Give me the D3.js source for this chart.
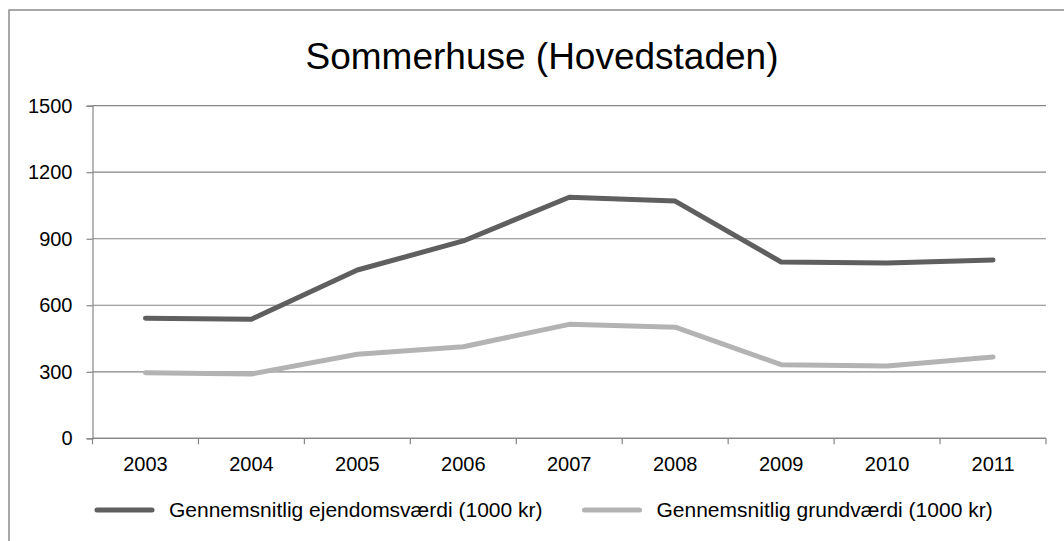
<!DOCTYPE html>
<html>
<head>
<meta charset="utf-8">
<script src="https://cdn.jsdelivr.net/npm/d3@7"></script>
<style>
  body { margin: 0; background: #fff; }
  text { font-family: "Liberation Sans", Arial, sans-serif; fill: #000; }
</style>
</head>
<body>
<svg id="chart" width="1064" height="541"></svg>
<script>
"use strict";

const years = ["2003", "2004", "2005", "2006", "2007", "2008", "2009", "2010", "2011"];
const ejendomsvaerdi = [541, 537, 759, 890, 1087, 1070, 795, 791, 804];
const grundvaerdi = [296, 290, 379, 413, 514, 501, 332, 326, 367];
const yTicks = [0, 300, 600, 900, 1200, 1500];
const seriesNames = [
  "Gennemsnitlig ejendomsværdi (1000 kr)",
  "Gennemsnitlig grundværdi (1000 kr)"
];
const seriesColors = ["#5f5f5f", "#b3b3b3"];
const title = "Sommerhuse (Hovedstaden)";

const svg = d3.select("svg#chart");
const margin = { left: 92.5, right: 1046, top: 105.7, bottom: 438.3 };

// outer chart border (only top and left are inside the frame)
svg.append("rect")
  .attr("x", 9).attr("y", 10)
  .attr("width", 1100).attr("height", 600)
  .attr("fill", "none")
  .attr("stroke", "#8c8c8c")
  .attr("stroke-width", 1.5);

svg.append("text")
  .attr("x", 542).attr("y", 69)
  .attr("text-anchor", "middle")
  .style("font-size", "37px")
  .text(title);

const x = d3.scaleBand().domain(years).range([margin.left, margin.right]);
const y = d3.scaleLinear().domain([0, 1500]).range([margin.bottom, margin.top]);

// gridlines
svg.append("g")
  .selectAll("line")
  .data(yTicks)
  .join("line")
  .attr("x1", margin.left).attr("x2", margin.right)
  .attr("y1", d => y(d)).attr("y2", d => y(d))
  .attr("stroke", "#868686")
  .attr("stroke-width", 1.2);

// y axis
const yAxis = svg.append("g")
  .attr("transform", `translate(${margin.left},0)`)
  .call(d3.axisLeft(y).tickValues(yTicks).tickFormat(d3.format("d")).tickSize(6).tickPadding(14));
yAxis.select(".domain").attr("stroke", "#868686").attr("stroke-width", 1.2);
yAxis.selectAll(".tick line").attr("stroke", "#868686").attr("stroke-width", 1.2);
yAxis.selectAll("text")
  .style("font-size", "20px")
  .style("font-family", "'Liberation Sans', Arial, sans-serif");

// x axis, ticks on category boundaries
const xAxis = svg.append("g")
  .attr("transform", `translate(0,${margin.bottom})`)
  .call(d3.axisBottom(x).tickSize(0).tickPadding(19));
xAxis.select(".domain").remove();
xAxis.selectAll("text")
  .style("font-size", "20px")
  .style("font-family", "'Liberation Sans', Arial, sans-serif");
xAxis.append("line")
  .attr("x1", margin.left).attr("x2", margin.right)
  .attr("stroke", "#868686").attr("stroke-width", 1.2);
xAxis.selectAll(".boundary")
  .data(d3.range(years.length + 1))
  .join("line")
  .attr("class", "boundary")
  .attr("x1", i => margin.left + i * x.step())
  .attr("x2", i => margin.left + i * x.step())
  .attr("y1", 0).attr("y2", 6)
  .attr("stroke", "#868686").attr("stroke-width", 1.2);

// lines
const line = d3.line()
  .x((d, i) => x(years[i]) + x.bandwidth() / 2)
  .y(d => y(d));

[ejendomsvaerdi, grundvaerdi].forEach((values, k) => {
  svg.append("path")
    .datum(values)
    .attr("d", line)
    .attr("fill", "none")
    .attr("stroke", seriesColors[k])
    .attr("stroke-width", 5)
    .attr("stroke-linecap", "round")
    .attr("stroke-linejoin", "round");
});

// legend
const legend = svg.append("g").attr("transform", "translate(0,510)");
let lx = 97;
seriesNames.forEach((name, k) => {
  legend.append("line")
    .attr("x1", lx).attr("x2", lx + 55)
    .attr("stroke", seriesColors[k])
    .attr("stroke-width", 5)
    .attr("stroke-linecap", "round");
  const t = legend.append("text")
    .attr("x", lx + 72).attr("y", 7)
    .style("font-size", "21px")
    .text(name);
  lx = lx + 72 + t.node().getComputedTextLength() + 42;
});
</script>
</body>
</html>
